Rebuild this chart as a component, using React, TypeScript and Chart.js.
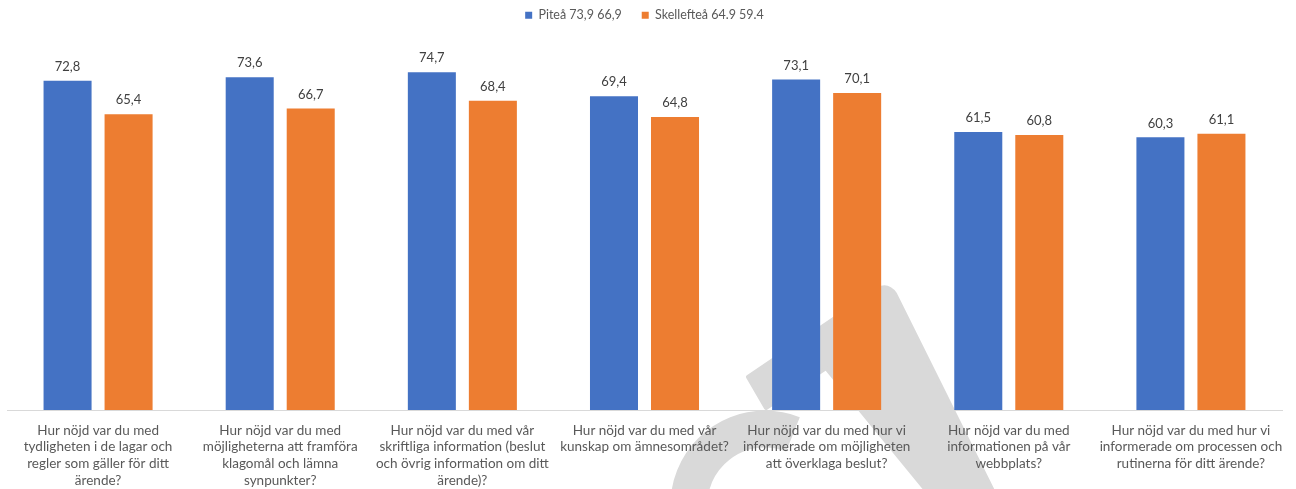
import React, { useEffect, useRef } from "react";
import { Chart, registerables } from "chart.js";

Chart.register(...registerables);

const categories: string[][] = [
  ["Hur nöjd var du med", "tydligheten i de lagar och", "regler som gäller för ditt", "ärende?"],
  ["Hur nöjd var du med", "möjligheterna att framföra", "klagomål och lämna", "synpunkter?"],
  ["Hur nöjd var du med vår", "skriftliga information (beslut", "och övrig information om ditt", "ärende)?"],
  ["Hur nöjd var du med vår", "kunskap om ämnesområdet?"],
  ["Hur nöjd var du med hur vi", "informerade om möjligheten", "att överklaga beslut?"],
  ["Hur nöjd var du med", "informationen på vår", "webbplats?"],
  ["Hur nöjd var du med hur vi", "informerade om processen och", "rutinerna för ditt ärende?"],
];

const seriesNames = ["Piteå 73,9 66,9", "Skellefteå 64.9 59.4"];
const piteaValues = [72.8, 73.6, 74.7, 69.4, 73.1, 61.5, 60.3];
const skellefteaValues = [65.4, 66.7, 68.4, 64.8, 70.1, 60.8, 61.1];
const seriesColors = ["#4472C4", "#ED7D31"];

const FONT = "Lato, 'Open Sans', sans-serif";

const watermarkPlugin = {
  id: "watermark",
  beforeDraw(chart: any) {
    const ctx = chart.ctx;
    ctx.save();
    ctx.fillStyle = "#d9d9d9";
    ctx.strokeStyle = "#d9d9d9";
    // ring segment under the labels
    ctx.lineWidth = 37;
    ctx.lineCap = "butt";
    ctx.beginPath();
    ctx.arc(765, 505, 76, Math.PI, Math.PI * 1.62);
    ctx.stroke();
    // inverted V shape
    ctx.lineJoin = "round";
    ctx.lineWidth = 4;
    ctx.beginPath();
    ctx.moveTo(748, 377);
    ctx.lineTo(878, 289);
    ctx.quadraticCurveTo(888, 284, 895, 294);
    ctx.lineTo(995, 495);
    ctx.lineTo(930, 495);
    ctx.lineTo(826, 368);
    ctx.lineTo(766, 408);
    ctx.closePath();
    ctx.fill();
    ctx.stroke();
    ctx.restore();
  },
};

const valueLabelPlugin = {
  id: "valueLabels",
  afterDatasetsDraw(chart: any) {
    const ctx = chart.ctx;
    ctx.save();
    ctx.font = `13px ${FONT}`;
    ctx.fillStyle = "#404040";
    ctx.textAlign = "center";
    ctx.textBaseline = "middle";
    chart.data.datasets.forEach((ds: any, di: number) => {
      const meta = chart.getDatasetMeta(di);
      meta.data.forEach((bar: any, i: number) => {
        const v = ds.data[i] as number;
        ctx.fillText(v.toFixed(1).replace(".", ","), bar.x, bar.y - 14);
      });
    });
    ctx.restore();
  },
};

export default function App() {
  const ref = useRef<HTMLCanvasElement | null>(null);

  useEffect(() => {
    document.body.style.margin = "0";
    if (!ref.current) return;
    const chart = new Chart(ref.current, {
      type: "bar",
      data: {
        labels: categories,
        datasets: [
          {
            label: seriesNames[0],
            data: piteaValues,
            backgroundColor: seriesColors[0],
            categoryPercentage: 0.67,
            barPercentage: 0.787,
          },
          {
            label: seriesNames[1],
            data: skellefteaValues,
            backgroundColor: seriesColors[1],
            categoryPercentage: 0.67,
            barPercentage: 0.787,
          },
        ],
      },
      options: {
        responsive: false,
        animation: false,
        layout: { padding: { left: 7, right: 14, top: -11, bottom: 0 } },
        plugins: {
          legend: {
            position: "top",
            labels: {
              boxWidth: 7,
              boxHeight: 7,
              padding: 20,
              color: "#595959",
              font: { family: FONT, size: 12.5 },
            },
          },
          tooltip: { enabled: false },
        },
        scales: {
          x: {
            grid: { display: false, drawTicks: false },
            border: { display: true, color: "#d9d9d9", width: 1 },
            ticks: {
              color: "#595959",
              font: { family: FONT, size: 13.5, lineHeight: 1.24 },
              padding: 12,
              maxRotation: 0,
              minRotation: 0,
              autoSkip: false,
            },
            afterFit: (scale: any) => {
              scale.height = 79;
            },
          },
          y: {
            display: false,
            min: 0,
            max: 83.7,
          },
        },
      },
      plugins: [watermarkPlugin, valueLabelPlugin],
    });
    return () => chart.destroy();
  }, []);

  return (
    <div style={{ width: 1296, height: 489 }}>
      <canvas ref={ref} width={1296} height={489} style={{ display: "block" }} />
    </div>
  );
}
